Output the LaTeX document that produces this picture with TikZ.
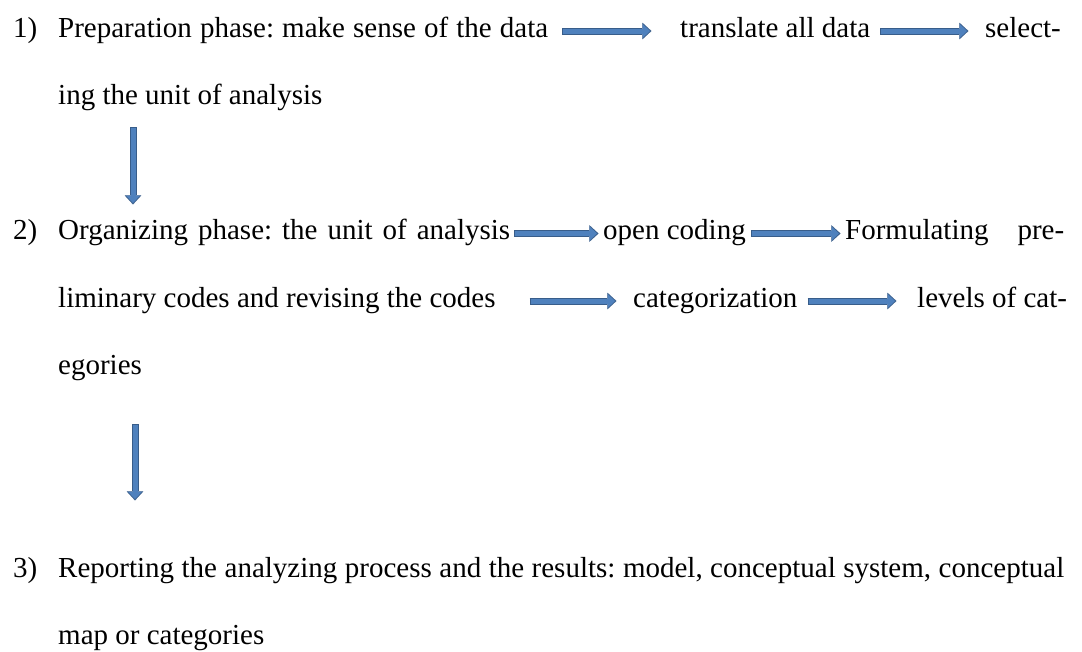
\documentclass[tikz,border=0pt]{standalone}
\usepackage{fontspec}
\setmainfont{Liberation Serif}
\usepackage{tikz}
\usetikzlibrary{arrows.meta}
\frenchspacing
\definecolor{arrowfill}{HTML}{4F81BD}
\definecolor{arrowline}{HTML}{385D8A}
\newcommand{\spread}[2]{\makebox[#1][s]{#2}}
% block arrow: dark edge first, then the lighter body on top
\newcommand{\barrow}[2]{\draw[arrowedge] #1 -- #2; \draw[arrowbody] #1 -- #2;}
\tikzset{
  txt/.style={anchor=base west, inner sep=0pt, text height=18pt, text depth=6pt,
    font=\fontsize{29}{33}\selectfont},
  arrowedge/.style={arrowline, line width=7pt, shorten <=-1pt, shorten >=-1.4pt,
    -{Triangle[width=16.5pt,length=9pt,line width=0.01pt]}},
  arrowbody/.style={arrowfill, line width=5pt,
    -{Triangle[width=13.5pt,length=7.2pt,line width=0.01pt]}}
}

\begin{document}
\begin{tikzpicture}[x=1pt,y=-1pt]
    \useasboundingbox (0,0) rectangle (1082,651);
    % 1) preparation
    \node[txt] (n1) at (13,37) {1)};
    \node[txt] (prep) at (58,37) {\spread{490pt}{Preparation phase: make sense of the data}};
    \node[txt] (trans) at (680,37) {translate all data};
    \node[txt] (sel) at (985,37) {select-};
    \node[txt] (unit) at (58,104.5) {ing the unit of analysis};
    \barrow{([xshift=15pt]prep.east)}{([xshift=-30pt]trans.west)}
    \barrow{([xshift=11pt]trans.east)}{([xshift=-18pt]sel.west)}
    \coordinate (d1s) at (133,128);
    \coordinate (d1e) at (133,203);
    \barrow{(d1s)}{(d1e)}
    % 2) organizing
    \node[txt] (n2) at (13,239.5) {2)};
    \node[txt] (org) at (58,239.5) {\spread{452pt}{Organizing phase: the unit of analysis}};
    \node[txt] (open) at (603,239.5) {open coding};
    \node[txt] (form) at (845,239.5) {\spread{219pt}{Formulating pre-}};
    \node[txt] (prelim) at (58,307) {liminary codes and revising the codes};
    \node[txt] (cat) at (633,307) {categorization};
    \node[txt] (lev) at (917,307) {levels of cat-};
    \node[txt] (egor) at (58,374.5) {egories};
    \barrow{([xshift=5pt]org.east)}{([xshift=-6pt]open.west)}
    \barrow{([xshift=6pt]open.east)}{([xshift=-6pt]form.west)}
    \barrow{([xshift=35pt]prelim.east)}{([xshift=-18pt]cat.west)}
    \barrow{([xshift=11pt]cat.east)}{([xshift=-22pt]lev.west)}
    \coordinate (d2s) at (135,425);
    \coordinate (d2e) at (135,499);
    \barrow{(d2s)}{(d2e)}
    % 3) reporting
    \node[txt] (n3) at (13,577) {3)};
    \node[txt] (rep) at (58,577) {\spread{1006pt}{Reporting the analyzing process and the results: model, conceptual system, conceptual}};
    \node[txt] (map) at (58,644.5) {map or categories};
\end{tikzpicture}
\end{document}
